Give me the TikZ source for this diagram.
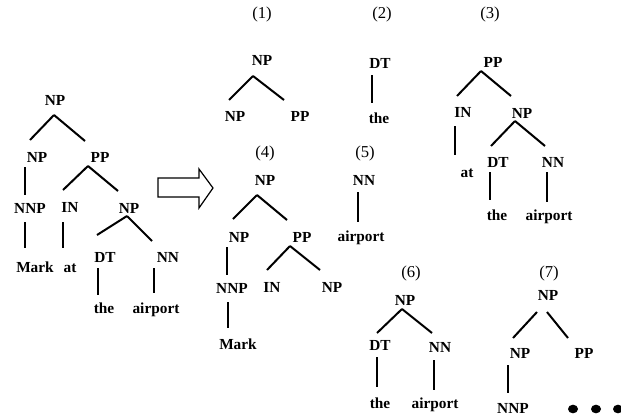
\documentclass[tikz,border=0pt]{standalone}
\usepackage{fontspec}
\setmainfont{Liberation Serif}
\begin{document}
\begin{tikzpicture}[x=0.75pt,y=-0.75pt,
  lab/.style={inner sep=0pt,font=\fontsize{11.5}{13}\selectfont\bfseries,text height=7.6pt,text depth=0pt},
  num/.style={inner sep=0pt,font=\fontsize{12.5}{14}\selectfont,text height=8.3pt,text depth=0pt},
  br/.style={line width=1.5pt},
  dot/.style={fill=black}]
\useasboundingbox (0,0) rectangle (621,418);
% ---------- left tree ----------
\node[lab] (L0) at (55,100) {NP};
\node[lab] (L1) at (37,157) {NP};
\node[lab] (L2) at (100,157) {PP};
\node[lab] (L3) at (30,208) {NNP};
\node[lab] (L4) at (70,207) {IN};
\node[lab] (L5) at (129,208) {NP};
\node[lab] (L6) at (35,267) {Mark};
\node[lab] (L7) at (70,267) {at};
\node[lab] (L8) at (105,257) {DT};
\node[lab] (L9) at (168,257) {NN};
\node[lab] (L10) at (104,308) {the};
\node[lab] (L11) at (156,308) {airport};
\draw[br] ([shift={(-1,15)}]L0.center) -- ([shift={(-7,-17)}]L1.center);
\draw[br] ([shift={(-1,15)}]L0.center) -- ([shift={(-15,-16)}]L2.center);
\draw[br] ([shift={(-12,10)}]L1.center) -- ([shift={(-5,-13)}]L3.center);
\draw[br] ([shift={(-12,9)}]L2.center) -- ([shift={(-7,-17)}]L4.center);
\draw[br] ([shift={(-12,9)}]L2.center) -- ([shift={(-11,-17)}]L5.center);
\draw[br] ([shift={(-5,14)}]L3.center) -- ([shift={(-10,-19)}]L6.center);
\draw[br] ([shift={(-7,15)}]L4.center) -- ([shift={(-7,-19)}]L7.center);
\draw[br] ([shift={(-2,8)}]L5.center) -- ([shift={(-8,-22)}]L8.center);
\draw[br] ([shift={(-2,8)}]L5.center) -- ([shift={(-16,-16)}]L9.center);
\draw[br] ([shift={(-7,11)}]L8.center) -- ([shift={(-6,-13)}]L10.center);
\draw[br] ([shift={(-14,11)}]L9.center) -- ([shift={(-2,-15)}]L11.center);
% ---------- arrow ----------
\draw[line width=0.9pt,fill=white] (158,178) -- (199,178) -- (199,169) -- (213,188) -- (199,208) -- (199,197) -- (158,197) -- cycle;
% ---------- tree (1) ----------
\node[num] (N1) at (262,13) {(1)};
\node[lab] (A0) at (262,60) {NP};
\node[lab] (A1) at (235,116) {NP};
\node[lab] (A2) at (300,116) {PP};
\draw[br] ([shift={(-9,16)}]A0.center) -- ([shift={(-6,-16)}]A1.center);
\draw[br] ([shift={(-9,16)}]A0.center) -- ([shift={(-16,-16)}]A2.center);
% ---------- tree (2) ----------
\node[num] (N2) at (382,13) {(2)};
\node[lab] (B0) at (380,63) {DT};
\node[lab] (B1) at (379,118) {the};
\draw[br] ([shift={(-8,12)}]B0.center) -- ([shift={(-7,-15)}]B1.center);
% ---------- tree (3) ----------
\node[num] (N3) at (490,13) {(3)};
\node[lab] (C0) at (493,62) {PP};
\node[lab] (C1) at (463,112) {IN};
\node[lab] (C2) at (522,113) {NP};
\node[lab] (C3) at (467,172) {at};
\node[lab] (C4) at (498,162) {DT};
\node[lab] (C5) at (553,162) {NN};
\node[lab] (C6) at (497,215) {the};
\node[lab] (C7) at (549,215) {airport};
\draw[br] ([shift={(-12,9)}]C0.center) -- ([shift={(-6,-16)}]C1.center);
\draw[br] ([shift={(-12,9)}]C0.center) -- ([shift={(-11,-17)}]C2.center);
\draw[br] ([shift={(-8,14)}]C1.center) -- ([shift={(-12,-17)}]C3.center);
\draw[br] ([shift={(-7,8)}]C2.center) -- ([shift={(-7,-16)}]C4.center);
\draw[br] ([shift={(-7,8)}]C2.center) -- ([shift={(-8,-16)}]C5.center);
\draw[br] ([shift={(-8,10)}]C4.center) -- ([shift={(-7,-15)}]C6.center);
\draw[br] ([shift={(-6,10)}]C5.center) -- ([shift={(-2,-13)}]C7.center);
% ---------- tree (4) ----------
\node[num] (N4) at (265,152) {(4)};
\node[lab] (D0) at (265,180) {NP};
\node[lab] (D1) at (239,237) {NP};
\node[lab] (D2) at (302,237) {PP};
\node[lab] (D3) at (232,288) {NNP};
\node[lab] (D4) at (272,287) {IN};
\node[lab] (D5) at (332,287) {NP};
\node[lab] (D6) at (238,344) {Mark};
\draw[br] ([shift={(-8,15)}]D0.center) -- ([shift={(-6,-18)}]D1.center);
\draw[br] ([shift={(-8,15)}]D0.center) -- ([shift={(-15,-17)}]D2.center);
\draw[br] ([shift={(-12,10)}]D1.center) -- ([shift={(-5,-13)}]D3.center);
\draw[br] ([shift={(-12,9)}]D2.center) -- ([shift={(-5,-17)}]D4.center);
\draw[br] ([shift={(-12,9)}]D2.center) -- ([shift={(-12,-17)}]D5.center);
\draw[br] ([shift={(-4,14)}]D3.center) -- ([shift={(-10,-16)}]D6.center);
% ---------- tree (5) ----------
\node[num] (N5) at (365,152) {(5)};
\node[lab] (E0) at (364,180) {NN};
\node[lab] (E1) at (361,236) {airport};
\draw[br] ([shift={(-6,12)}]E0.center) -- ([shift={(-3,-14)}]E1.center);
% ---------- tree (6) ----------
\node[num] (N6) at (411,272) {(6)};
\node[lab] (F0) at (405,300) {NP};
\node[lab] (F1) at (380,345) {DT};
\node[lab] (F2) at (440,347) {NN};
\node[lab] (F3) at (380,403) {the};
\node[lab] (F4) at (435,403) {airport};
\draw[br] ([shift={(-3,9)}]F0.center) -- ([shift={(-3,-12)}]F1.center);
\draw[br] ([shift={(-3,9)}]F0.center) -- ([shift={(-8,-14)}]F2.center);
\draw[br] ([shift={(-3,12)}]F1.center) -- ([shift={(-3,-16)}]F3.center);
\draw[br] ([shift={(-6,13)}]F2.center) -- ([shift={(-1,-13)}]F4.center);
% ---------- tree (7) ----------
\node[num] (N7) at (549,272) {(7)};
\node[lab] (G0) at (548,295) {NP};
\node[lab] (G1) at (520,353) {NP};
\node[lab] (G2) at (584,353) {PP};
\node[lab] (G3) at (513,408) {NNP};
\draw[br] ([shift={(-11,17)}]G0.center) -- ([shift={(-7,-15)}]G1.center);
\draw[br] ([shift={(-1,17)}]G0.center) -- ([shift={(-16,-15)}]G2.center);
\draw[br] ([shift={(-12,12)}]G1.center) -- ([shift={(-5,-15)}]G3.center);
% ---------- dots ----------
\fill[dot] (573,409) ellipse [x radius=5, y radius=4.3];
\fill[dot] (596,409) ellipse [x radius=5, y radius=4.3];
\fill[dot] (618,409) ellipse [x radius=5, y radius=4.3];
\end{tikzpicture}
\end{document}
